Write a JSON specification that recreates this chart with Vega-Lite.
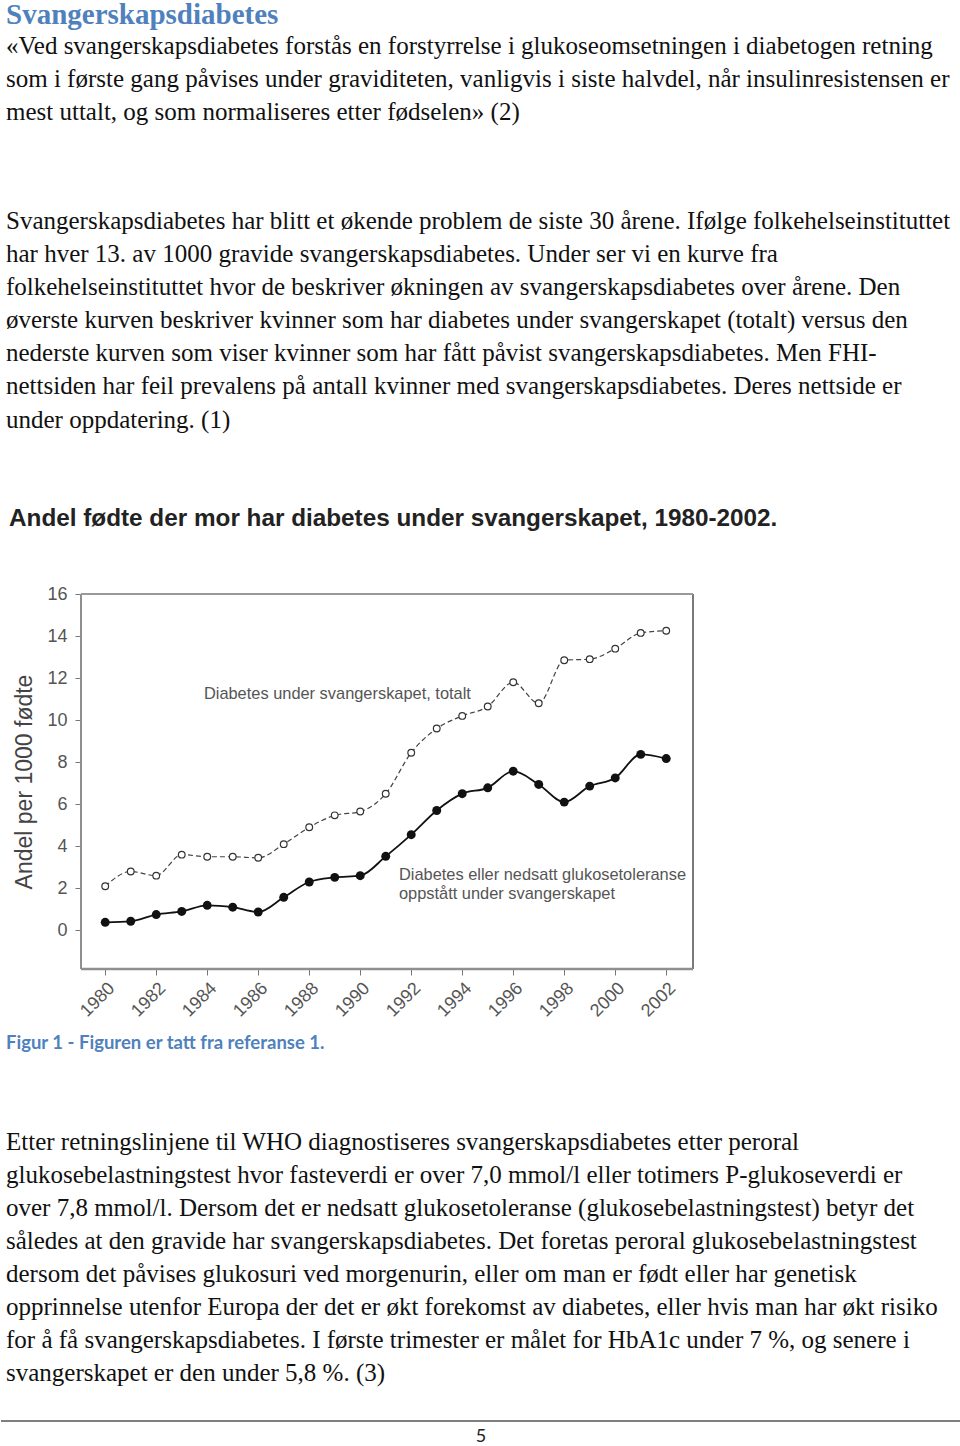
{
  "$schema": "https://vega.github.io/schema/vega-lite/v6.json",
  "padding": 0,
  "background": "white",
  "bounds": "flush",
  "spacing": 0,
  "config": {"view": {"stroke": null}, "font": "Liberation Sans"},
  "datasets": {
    "heading": [{"line": 0, "text": "Svangerskapsdiabetes"}],
    "para1": [
      {"line": 0, "text": "«Ved svangerskapsdiabetes forstås en forstyrrelse i glukoseomsetningen i diabetogen  retning"},
      {"line": 1, "text": "som i første gang påvises under graviditeten, vanligvis i siste halvdel, når insulinresistensen er"},
      {"line": 2, "text": "mest uttalt, og som normaliseres etter fødselen» (2)"}
    ],
    "para2": [
      {"line": 0, "text": "Svangerskapsdiabetes har blitt et økende problem de siste 30 årene. Ifølge folkehelseinstituttet"},
      {"line": 1, "text": "har hver 13. av 1000 gravide svangerskapsdiabetes. Under ser vi en kurve fra"},
      {"line": 2, "text": "folkehelseinstituttet hvor de beskriver økningen av svangerskapsdiabetes over årene. Den"},
      {"line": 3, "text": "øverste kurven beskriver kvinner som har diabetes under svangerskapet (totalt) versus den"},
      {"line": 4, "text": "nederste kurven som viser kvinner som har fått påvist svangerskapsdiabetes. Men FHI-"},
      {"line": 5, "text": "nettsiden har feil prevalens på antall kvinner med svangerskapsdiabetes. Deres nettside er"},
      {"line": 6, "text": "under oppdatering. (1)"}
    ],
    "charttitle": [{"line": 9, "text": "Andel fødte der mor har diabetes under svangerskapet, 1980-2002."}],
    "caption": [{"line": -3, "text": "Figur 1 - Figuren er tatt fra referanse 1."}],
    "para3": [
      {"line": 0, "text": "Etter retningslinjene til WHO diagnostiseres svangerskapsdiabetes etter peroral"},
      {"line": 1, "text": "glukosebelastningstest hvor fasteverdi er over 7,0 mmol/l eller  totimers P-glukoseverdi er"},
      {"line": 2, "text": "over 7,8 mmol/l. Dersom det er nedsatt glukosetoleranse (glukosebelastningstest) betyr det"},
      {"line": 3, "text": "således at den gravide har svangerskapsdiabetes. Det foretas peroral glukosebelastningstest"},
      {"line": 4, "text": "dersom det påvises glukosuri ved morgenurin, eller om man er født eller har genetisk"},
      {"line": 5, "text": "opprinnelse utenfor Europa der det er økt forekomst av diabetes, eller hvis man har økt risiko"},
      {"line": 6, "text": "for å få svangerskapsdiabetes. I første trimester er målet for HbA1c under 7 %, og senere i"},
      {"line": 7, "text": "svangerskapet er den under 5,8 %. (3)"}
    ],
    "pagenum": [{"text": "5"}],
    "annotations": [
      {"year": 1983.87, "value": 11.24, "label": "Diabetes under svangerskapet, totalt"},
      {"year": 1991.52, "value": 2.63, "label": "Diabetes eller nedsatt glukosetoleranse"},
      {"year": 1991.52, "value": 1.74, "label": "oppstått under svangerskapet"}
    ],
    "series": [
      {"year": 1980, "series": "totalt", "value": 2.1},
      {"year": 1981, "series": "totalt", "value": 2.8},
      {"year": 1982, "series": "totalt", "value": 2.6},
      {"year": 1983, "series": "totalt", "value": 3.6},
      {"year": 1984, "series": "totalt", "value": 3.5},
      {"year": 1985, "series": "totalt", "value": 3.5},
      {"year": 1986, "series": "totalt", "value": 3.45},
      {"year": 1987, "series": "totalt", "value": 4.1},
      {"year": 1988, "series": "totalt", "value": 4.9},
      {"year": 1989, "series": "totalt", "value": 5.47},
      {"year": 1990, "series": "totalt", "value": 5.65},
      {"year": 1991, "series": "totalt", "value": 6.5},
      {"year": 1992, "series": "totalt", "value": 8.45},
      {"year": 1993, "series": "totalt", "value": 9.6},
      {"year": 1994, "series": "totalt", "value": 10.2},
      {"year": 1995, "series": "totalt", "value": 10.65},
      {"year": 1996, "series": "totalt", "value": 11.8},
      {"year": 1997, "series": "totalt", "value": 10.8},
      {"year": 1998, "series": "totalt", "value": 12.85},
      {"year": 1999, "series": "totalt", "value": 12.9},
      {"year": 2000, "series": "totalt", "value": 13.4},
      {"year": 2001, "series": "totalt", "value": 14.15},
      {"year": 2002, "series": "totalt", "value": 14.25},
      {"year": 1980, "series": "oppstått", "value": 0.38},
      {"year": 1981, "series": "oppstått", "value": 0.43},
      {"year": 1982, "series": "oppstått", "value": 0.75},
      {"year": 1983, "series": "oppstått", "value": 0.9},
      {"year": 1984, "series": "oppstått", "value": 1.19},
      {"year": 1985, "series": "oppstått", "value": 1.1},
      {"year": 1986, "series": "oppstått", "value": 0.87},
      {"year": 1987, "series": "oppstått", "value": 1.57},
      {"year": 1988, "series": "oppstått", "value": 2.3},
      {"year": 1989, "series": "oppstått", "value": 2.52},
      {"year": 1990, "series": "oppstått", "value": 2.6},
      {"year": 1991, "series": "oppstått", "value": 3.52},
      {"year": 1992, "series": "oppstått", "value": 4.55},
      {"year": 1993, "series": "oppstått", "value": 5.7},
      {"year": 1994, "series": "oppstått", "value": 6.5},
      {"year": 1995, "series": "oppstått", "value": 6.78},
      {"year": 1996, "series": "oppstått", "value": 7.57},
      {"year": 1997, "series": "oppstått", "value": 6.94},
      {"year": 1998, "series": "oppstått", "value": 6.1},
      {"year": 1999, "series": "oppstått", "value": 6.86},
      {"year": 2000, "series": "oppstått", "value": 7.25},
      {"year": 2001, "series": "oppstått", "value": 8.37},
      {"year": 2002, "series": "oppstått", "value": 8.17}
    ]
  },
  "vconcat": [
    {
      "width": 960,
      "height": 28.5,
      "data": {"name": "heading"},
      "mark": {"type": "text", "align": "left", "baseline": "middle", "font": "Liberation Serif", "fontWeight": "bold", "fontSize": 29, "color": "#4F81BD", "dy": 0.5},
      "encoding": {
        "x": {"value": 5},
        "y": {"field": "line", "type": "quantitative", "scale": {"domain": [-0.5, 0.5], "reverse": true, "nice": false, "zero": false}, "axis": null},
        "text": {"field": "text"}
      }
    },
    {
      "width": 960,
      "height": 175,
      "data": {"name": "para1"},
      "mark": {"type": "text", "align": "left", "baseline": "middle", "font": "Liberation Serif", "fontSize": 25, "color": "#111"},
      "encoding": {
        "x": {"value": 5},
        "y": {"field": "line", "type": "quantitative", "scale": {"domain": [-0.5, 4.803], "reverse": true, "nice": false, "zero": false}, "axis": null},
        "text": {"field": "text"}
      }
    },
    {
      "width": 960,
      "height": 389.5,
      "encoding": {
        "x": {"value": 5},
        "y": {"field": "line", "type": "quantitative", "scale": {"domain": [-0.5, 11.243], "reverse": true, "nice": false, "zero": false}, "axis": null},
        "text": {"field": "text"}
      },
      "layer": [
        {
          "data": {"name": "para2"},
          "mark": {"type": "text", "align": "left", "baseline": "middle", "font": "Liberation Serif", "fontSize": 25, "color": "#111"}
        },
        {
          "data": {"name": "charttitle"},
          "mark": {"type": "text", "align": "left", "baseline": "middle", "font": "Liberation Sans", "fontWeight": "bold", "fontSize": 24.3, "color": "#222", "dx": 3}
        }
      ]
    },
    {
      "width": 692,
      "height": 375,
      "layer": [
        {
          "data": {"name": "series"},
          "transform": [{"filter": "datum.series == 'totalt'"}],
          "mark": {"type": "line", "strokeDash": [5, 3], "color": "#444", "strokeWidth": 1.2, "interpolate": "monotone"},
          "encoding": {
            "x": {
              "field": "year", "type": "quantitative",
              "scale": {"domain": [1975.913, 2003.05], "nice": false, "zero": false},
              "axis": {"values": [1980, 1982, 1984, 1986, 1988, 1990, 1992, 1994, 1996, 1998, 2000, 2002], "format": "d", "labelAngle": -45, "labelFont": "Liberation Sans", "labelFontSize": 18, "labelColor": "#555", "tickColor": "#777", "tickSize": 6, "domain": false, "grid": false, "title": null, "labelPadding": 4}
            },
            "y": {
              "field": "value", "type": "quantitative",
              "scale": {"domain": [-1.84, 16], "nice": false, "zero": false},
              "axis": {"values": [0, 2, 4, 6, 8, 10, 12, 14, 16], "offset": -80, "labelFont": "Liberation Sans", "labelFontSize": 18, "labelColor": "#555", "tickColor": "#777", "tickSize": 6, "domain": false, "grid": false, "title": "Andel per 1000 fødte", "titleFont": "Liberation Sans", "titleFontSize": 23, "titleFontWeight": "normal", "titleColor": "#444", "titlePadding": 10, "labelPadding": 8}
            }
          }
        },
        {
          "data": {"name": "series"},
          "transform": [{"filter": "datum.series == 'oppstått'"}],
          "mark": {"type": "line", "color": "#111", "strokeWidth": 1.8, "interpolate": "monotone"},
          "encoding": {
            "x": {"field": "year", "type": "quantitative"},
            "y": {"field": "value", "type": "quantitative"}
          }
        },
        {
          "data": {"name": "series"},
          "transform": [{"filter": "datum.series == 'totalt'"}],
          "mark": {"type": "point", "shape": "circle", "filled": true, "fill": "white", "stroke": "#333", "strokeWidth": 1.2, "size": 45, "opacity": 1},
          "encoding": {
            "x": {"field": "year", "type": "quantitative"},
            "y": {"field": "value", "type": "quantitative"}
          }
        },
        {
          "data": {"name": "series"},
          "transform": [{"filter": "datum.series == 'oppstått'"}],
          "mark": {"type": "circle", "size": 80, "color": "#111", "opacity": 1},
          "encoding": {
            "x": {"field": "year", "type": "quantitative"},
            "y": {"field": "value", "type": "quantitative"}
          }
        },
        {
          "data": {"name": "annotations"},
          "mark": {"type": "text", "align": "left", "baseline": "middle", "font": "Liberation Sans", "fontSize": 16.4, "color": "#555"},
          "encoding": {
            "x": {"field": "year", "type": "quantitative"},
            "y": {"field": "value", "type": "quantitative"},
            "text": {"field": "label"}
          }
        },
        {
          "data": {"values": [{}]},
          "mark": {"type": "rule", "color": "#8f8f8f", "strokeWidth": 2},
          "encoding": {
            "x": {"datum": 1979.05, "type": "quantitative"},
            "y": {"datum": 16, "type": "quantitative"},
            "y2": {"datum": -1.84}
          }
        },
        {
          "data": {"values": [{}]},
          "mark": {"type": "rule", "color": "#7a7a7a", "strokeWidth": 2},
          "encoding": {
            "x": {"datum": 2003.05, "type": "quantitative"},
            "y": {"datum": 16, "type": "quantitative"},
            "y2": {"datum": -1.84}
          }
        },
        {
          "data": {"values": [{}]},
          "mark": {"type": "rule", "color": "#999999", "strokeWidth": 2},
          "encoding": {
            "y": {"datum": 16, "type": "quantitative"},
            "x": {"datum": 1979.05, "type": "quantitative"},
            "x2": {"datum": 2003.05}
          }
        },
        {
          "data": {"values": [{}]},
          "mark": {"type": "rule", "color": "#8f8f8f", "strokeWidth": 2.5},
          "encoding": {
            "y": {"datum": -1.84, "type": "quantitative"},
            "x": {"datum": 1979.05, "type": "quantitative"},
            "x2": {"datum": 2003.05}
          }
        }
      ]
    },
    {
      "width": 960,
      "height": 452,
      "encoding": {
        "x": {"value": 5},
        "y": {"field": "line", "type": "quantitative", "scale": {"domain": [-5.242, 8.455], "reverse": true, "nice": false, "zero": false}, "axis": null},
        "text": {"field": "text"}
      },
      "layer": [
        {
          "data": {"name": "caption"},
          "mark": {"type": "text", "align": "left", "baseline": "middle", "font": "Lato", "fontWeight": "bold", "fontSize": 18.5, "color": "#4F81BD"}
        },
        {
          "data": {"name": "para3"},
          "mark": {"type": "text", "align": "left", "baseline": "middle", "font": "Liberation Serif", "fontSize": 25, "color": "#111"}
        }
      ]
    },
    {
      "width": 960,
      "height": 26,
      "layer": [
        {
          "data": {"values": [{}]},
          "mark": {"type": "rule", "color": "#555", "strokeWidth": 1.5},
          "encoding": {"y": {"datum": 1, "type": "quantitative", "scale": {"domain": [0, 1], "nice": false, "zero": false}, "axis": null}}
        },
        {
          "data": {"name": "pagenum"},
          "mark": {"type": "text", "align": "center", "baseline": "middle", "font": "Lato", "fontSize": 18, "color": "#222"},
          "encoding": {
            "x": {"value": 480},
            "y": {"datum": 0.385, "type": "quantitative"},
            "text": {"field": "text"}
          }
        }
      ]
    }
  ]
}
